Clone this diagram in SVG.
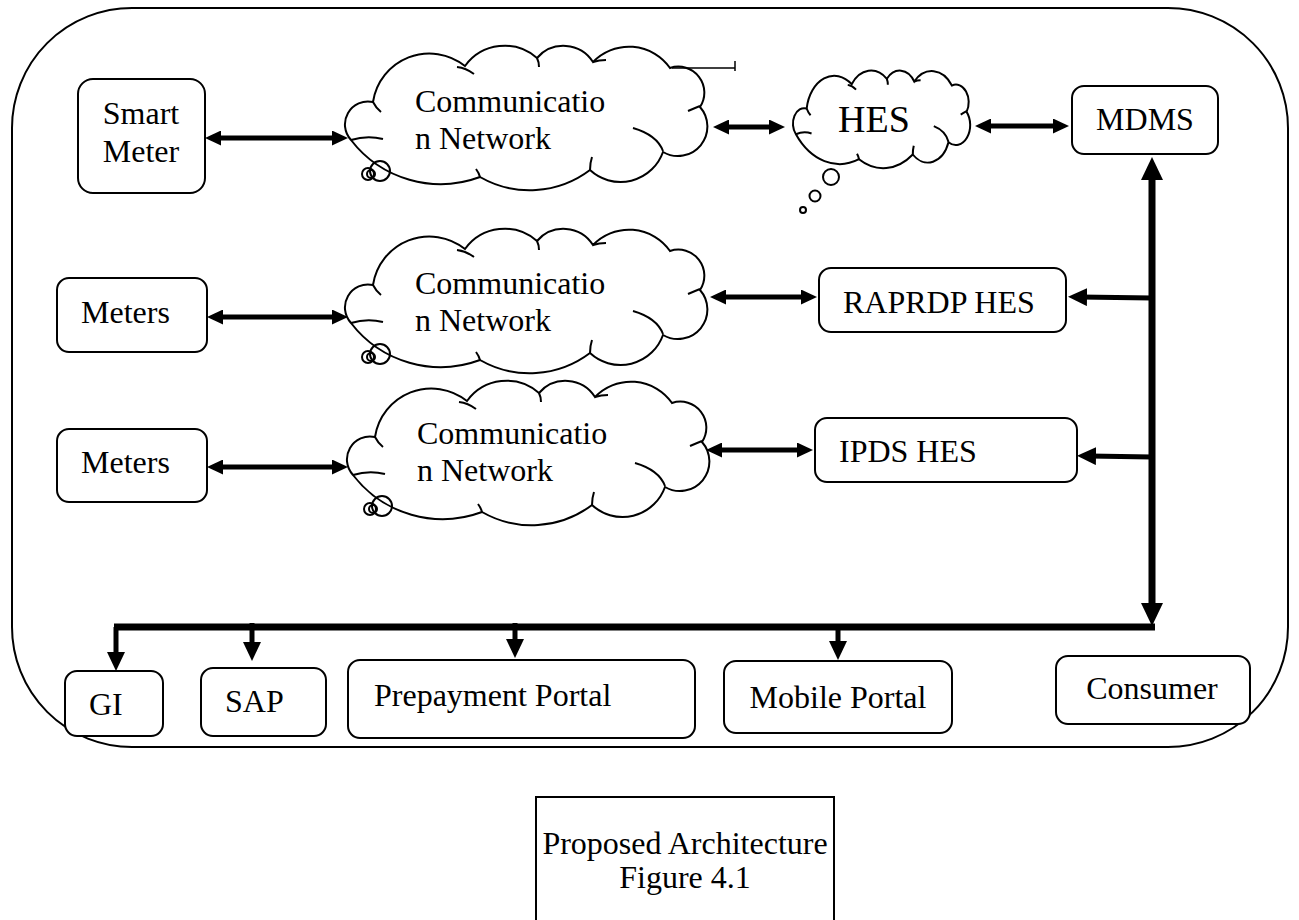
<svg xmlns="http://www.w3.org/2000/svg" xmlns:xlink="http://www.w3.org/1999/xlink" width="1299" height="920" viewBox="0 0 1299 920">
<style>
.box{fill:#fff;stroke:#000;stroke-width:2}
.frame{fill:none;stroke:#000;stroke-width:2}
.t{font-family:"Liberation Serif","Times New Roman",serif;font-size:32px;fill:#000}
.m{text-anchor:middle}
.cl{fill:#fff;stroke:#000;stroke-width:2}
.ci{fill:none;stroke:#000;stroke-width:2}
.bub{fill:none;stroke:#000;stroke-width:2}
.a{stroke:#000;stroke-width:5;fill:none}
.bus{stroke:#000;stroke-width:7;fill:none}
</style>
<defs>
<marker id="ah" markerUnits="userSpaceOnUse" markerWidth="16" markerHeight="15" refX="6" refY="7.5" orient="auto-start-reverse" viewBox="0 0 16 15"><path d="M0,0 L16,7.5 L0,15 Z" fill="#000"/></marker>
<marker id="ahM" markerUnits="userSpaceOnUse" markerWidth="19" markerHeight="18" refX="7" refY="9" orient="auto-start-reverse" viewBox="0 0 19 18"><path d="M0,0 L19,9 L0,18 Z" fill="#000"/></marker>
<marker id="ahB" markerUnits="userSpaceOnUse" markerWidth="23" markerHeight="22" refX="9" refY="11" orient="auto-start-reverse" viewBox="0 0 23 22"><path d="M0,0 L23,11 L0,22 Z" fill="#000"/></marker>
<g id="cloud">
<path class="cl" vector-effect="non-scaling-stroke" d="M8,95 A23,23 0 0 1 30,57 A57,57 0 0 1 122,21 A49,49 0 0 1 194,13 A35,35 0 0 1 250,17 A50,50 0 0 1 327,23 A26,26 0 0 1 357,62 A29.5,29.5 0 0 1 320,107 A45,45 0 0 1 247,125 A100,100 0 0 1 137,132 A113,113 0 0 1 8,95 Z"/>
<path class="ci" vector-effect="non-scaling-stroke" d="M8,95 Q24,90 40,94 M30,57 Q33,63 38,67 M114,22 Q123,23 131,29 M194,13 Q196,17 196,22 M250,17 Q256,15 263,15 M345,66 Q352,63 357,61 M290,83 Q314,90 320,106 M247,125 Q247,118 249,112 M137,132 Q136,128 133,124"/>
</g>
<g id="bubbles">
<circle class="bub" cx="37" cy="126" r="10"/>
<circle class="bub" cx="25" cy="129" r="6"/>
<circle class="bub" cx="28" cy="129" r="4"/>
</g>
</defs>

<rect class="frame" x="12" y="8" width="1276" height="739" rx="120" ry="120"/>

<g id="connectors">
<line class="a" x1="215" y1="138" x2="338" y2="138" marker-start="url(#ah)" marker-end="url(#ah)"/>
<line class="a" x1="723" y1="127" x2="775" y2="127" marker-start="url(#ah)" marker-end="url(#ah)"/>
<line class="a" x1="985" y1="126" x2="1059" y2="126" marker-start="url(#ah)" marker-end="url(#ah)"/>
<line class="a" x1="217" y1="317" x2="338" y2="317" marker-start="url(#ah)" marker-end="url(#ah)"/>
<line class="a" x1="720" y1="297" x2="807" y2="297" marker-start="url(#ah)" marker-end="url(#ah)"/>
<line class="a" x1="217" y1="467" x2="338" y2="467" marker-start="url(#ah)" marker-end="url(#ah)"/>
<line class="a" x1="716" y1="450" x2="803" y2="450" marker-start="url(#ah)" marker-end="url(#ah)"/>
<line class="a" x1="1152" y1="298" x2="1080" y2="297" marker-end="url(#ahM)"/>
<line class="a" x1="1152" y1="457" x2="1089" y2="456" marker-end="url(#ahM)"/>
<line class="bus" x1="1152" y1="171" x2="1152" y2="612" marker-start="url(#ahB)" marker-end="url(#ahB)"/>
<line class="bus" x1="114" y1="627" x2="1155" y2="627"/>
<line class="a" x1="116" y1="627" x2="116" y2="659" marker-end="url(#ahM)"/>
<line class="a" x1="252" y1="623" x2="252" y2="649" marker-end="url(#ahM)"/>
<line class="a" x1="515" y1="623" x2="515" y2="646" marker-end="url(#ahM)"/>
<line class="a" x1="838" y1="624" x2="838" y2="648" marker-end="url(#ahM)"/>
</g>

<g id="smart-meter">
<rect class="box" x="78" y="79" width="127" height="114" rx="15"/>
<text class="t m" x="141" y="124">Smart</text>
<text class="t m" x="141" y="162">Meter</text>
</g>

<g id="comm-network-1">
<use xlink:href="#cloud" href="#cloud" transform="translate(343,45)"/>
<use xlink:href="#bubbles" href="#bubbles" transform="translate(343,45)"/>
<path d="M672,68 L735,68 M735,61 L735,71" fill="none" stroke="#000" stroke-width="1.5"/>
<text class="t" x="415" y="112">Communicatio</text>
<text class="t" x="415" y="149">n Network</text>
</g>

<g id="hes">
<use xlink:href="#cloud" href="#cloud" transform="translate(792,70) scale(0.489,0.676)"/>
<circle class="bub" cx="831" cy="177" r="8"/>
<circle class="bub" cx="815" cy="196" r="5.5"/>
<circle class="bub" cx="803" cy="210" r="3"/>
<text class="t" x="838" y="132" style="font-size:38px">HES</text>
</g>

<g id="mdms">
<rect class="box" x="1072" y="86" width="146" height="68" rx="12"/>
<text class="t m" x="1145" y="130">MDMS</text>
</g>

<g id="meters-1">
<rect class="box" x="57" y="278" width="150" height="74" rx="12"/>
<text class="t" x="81" y="323">Meters</text>
</g>

<g id="comm-network-2">
<use xlink:href="#cloud" href="#cloud" transform="translate(343,228)"/>
<use xlink:href="#bubbles" href="#bubbles" transform="translate(343,228)"/>
<text class="t" x="415" y="294">Communicatio</text>
<text class="t" x="415" y="331">n Network</text>
</g>

<g id="raprdp-hes">
<rect class="box" x="819" y="268" width="247" height="64" rx="12"/>
<text class="t" x="843" y="313">RAPRDP HES</text>
</g>

<g id="meters-2">
<rect class="box" x="57" y="429" width="150" height="73" rx="12"/>
<text class="t" x="81" y="473">Meters</text>
</g>

<g id="comm-network-3">
<use xlink:href="#cloud" href="#cloud" transform="translate(345,380)"/>
<use xlink:href="#bubbles" href="#bubbles" transform="translate(345,380)"/>
<text class="t" x="417" y="444">Communicatio</text>
<text class="t" x="417" y="481">n Network</text>
</g>

<g id="ipds-hes">
<rect class="box" x="815" y="418" width="262" height="64" rx="12"/>
<text class="t" x="839" y="462">IPDS HES</text>
</g>

<g id="gi">
<rect class="box" x="65" y="671" width="98" height="65" rx="12"/>
<text class="t" x="89" y="715">GI</text>
</g>

<g id="sap">
<rect class="box" x="201" y="668" width="125" height="68" rx="12"/>
<text class="t" x="225" y="712">SAP</text>
</g>

<g id="prepayment-portal">
<rect class="box" x="348" y="660" width="347" height="78" rx="12"/>
<text class="t" x="374" y="706">Prepayment Portal</text>
</g>

<g id="mobile-portal">
<rect class="box" x="724" y="661" width="228" height="72" rx="12"/>
<text class="t m" x="838" y="708">Mobile Portal</text>
</g>

<g id="consumer">
<rect class="box" x="1056" y="656" width="194" height="68" rx="12"/>
<text class="t m" x="1152" y="699">Consumer</text>
</g>

<g id="caption">
<rect class="box" x="536" y="797" width="298" height="140"/>
<text class="t m" x="685" y="854">Proposed Architecture</text>
<text class="t m" x="685" y="888">Figure 4.1</text>
</g>
</svg>
